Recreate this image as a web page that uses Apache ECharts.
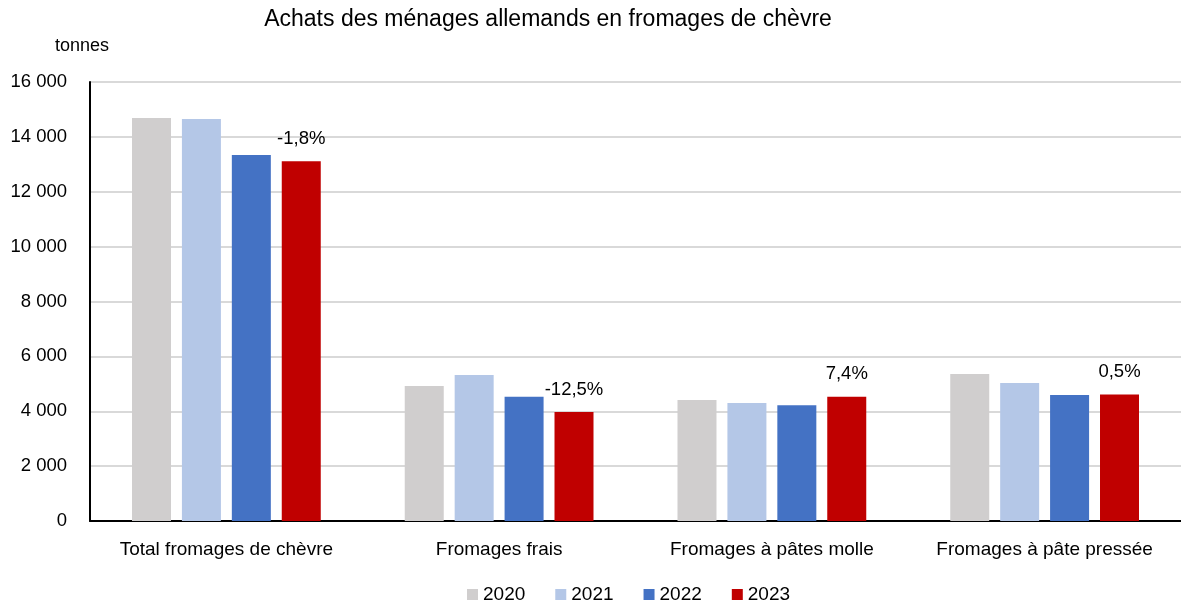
<!DOCTYPE html>
<html><head><meta charset="utf-8">
<script src="https://cdn.jsdelivr.net/npm/echarts@6/dist/echarts.min.js"></script>
<style>html,body{margin:0;padding:0;background:#fff}#c{width:1181px;height:601px}</style>
</head><body><div id="c"></div>
<script>
const categories = ["Total fromages de chèvre", "Fromages frais", "Fromages à pâtes molle", "Fromages à pâte pressée"];
const years = ["2020", "2021", "2022", "2023"];
const v2020 = [14690, 4920, 4410, 5360];
const v2021 = [14650, 5320, 4300, 5030];
const v2022 = [13340, 4530, 4220, 4590];
const v2023 = [13110, 3970, 4530, 4610];
const changeLabels = ["-1,8%", "-12,5%", "7,4%", "0,5%"];
const colors = ["#d0cece", "#b4c7e7", "#4472c4", "#c00000"];
const FONT = "'Liberation Sans', Arial, sans-serif";

const chart = echarts.init(document.getElementById('c'), null, {renderer: 'canvas'});
const seriesData = [v2020, v2021, v2022, v2023];
chart.setOption({
  animation: false,
  textStyle: {fontFamily: FONT, color: '#000'},
  title: [
    {text: 'Achats des ménages allemands en fromages de chèvre', left: 543, top: 3, textAlign: 'center',
      textStyle: {fontFamily: FONT, fontSize: 23, fontWeight: 'normal', color: '#000'}},
    {text: 'tonnes', left: 50, top: 32,
      textStyle: {fontFamily: FONT, fontSize: 18, fontWeight: 'normal', color: '#000'}}
  ],
  legend: {data: years, top: 580, left: 462, itemWidth: 11, itemHeight: 11, itemGap: 30,
    icon: 'rect', textStyle: {fontFamily: FONT, fontSize: 19, color: '#000'}},
  grid: {left: 90, right: 0, top: 82, bottom: 80, containLabel: false},
  xAxis: {type: 'category', data: categories,
    axisLine: {lineStyle: {color: '#000', width: 2}}, axisTick: {show: false},
    axisLabel: {interval: 0, fontFamily: FONT, fontSize: 19, color: '#000', margin: 19}},
  yAxis: {type: 'value', min: 0, max: 16000, interval: 2000,
    axisLine: {show: true, lineStyle: {color: '#000', width: 2}}, axisTick: {show: false},
    splitLine: {lineStyle: {color: '#d9d9d9', width: 2}},
    axisLabel: {fontFamily: FONT, fontSize: 18.5, color: '#000', margin: 23,
      formatter: v => v === 0 ? '0' : String(v).replace(/\B(?=(\d{3})+(?!\d))/g, ' ')}},
  series: years.map((y, i) => ({
    name: y, type: 'bar', data: seriesData[i], barWidth: 39, barGap: '28%', barCategoryGap: '31%',
    itemStyle: {color: colors[i]},
    label: i === 3 ? {show: true, position: 'top', distance: 13, fontFamily: FONT, fontSize: 18.5, color: '#000',
      formatter: p => changeLabels[p.dataIndex]} : {show: false}
  }))
});
</script></body></html>
